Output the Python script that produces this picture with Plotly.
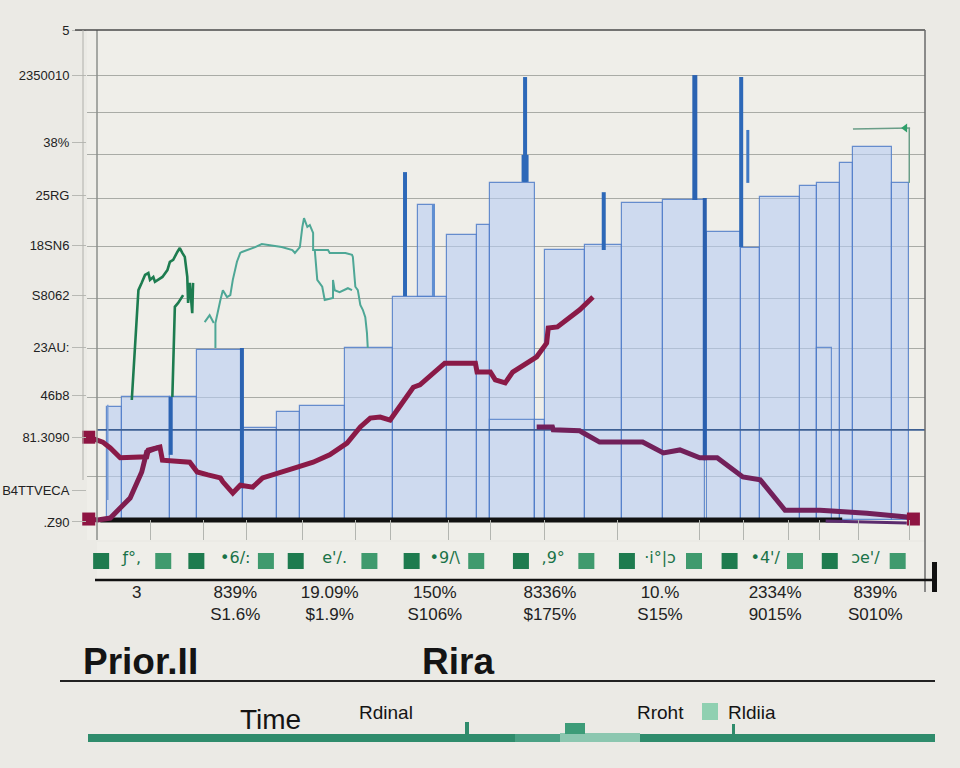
import plotly.graph_objects as go

# ---------------- data (chart units: period 0-100, level 0-100) ----------------
y_tick_vals = [100, 90.8, 77.1, 66.3, 56.1, 45.9, 35.3, 25.5, 16.9, 6.1, -0.4]
y_tick_text = ["5", "2350010", "38%", "25RG", "18SN6", "S8062", "23AU:", "46b8",
               "81.3090", "B4TTVECA", ".Z90"]
grid_levels = [90.8, 83.1, 74.5, 65.7, 55.9, 45.3, 35.1, 25.1, 8.8]
ref_level = 18.4
period_marks = [6.5, 12.9, 18.1, 24.8, 31.2, 35.4, 42.4, 47.5, 54.1, 62.9, 72.8,
                78.1, 83.5, 87.3, 92.0, 98.1]

bar_left = [1.2, 3.0, 8.8, 12.1, 17.6, 21.7, 24.5, 30.0, 35.7, 42.3, 45.9, 47.5, 52.9,
            54.1, 58.9, 63.4, 68.4, 73.7, 77.8, 80.1, 84.9, 86.9, 89.7, 91.3, 96.0, 38.8]
bar_right = [3.0, 8.8, 12.1, 17.6, 21.7, 24.5, 30.0, 35.7, 42.3, 45.9, 47.5, 52.9, 54.1,
             58.9, 63.4, 68.4, 73.4, 77.8, 80.1, 84.9, 86.9, 89.7, 91.3, 96.0, 98.1, 40.8]
bar_top = [23.1, 25.1, 25.1, 34.7, 18.8, 22.0, 23.3, 35.1, 45.5, 58.2, 60.2, 68.8, 20.4,
           55.1, 56.1, 64.7, 65.3, 58.8, 55.5, 65.9, 68.2, 68.8, 72.9, 76.1, 68.8, 64.3]
bar_base = [0] * 25 + [45.5]

inner_left = [47.5, 86.9]
inner_right = [52.9, 88.8]
inner_top = [20.4, 35.1]

spike_x = [1.3, 8.9, 17.5, 37.2, 40.6, 51.7, 51.7, 61.2, 72.2, 73.4, 77.8, 78.6]
spike_lo = [4.1, 13.3, 6.5, 45.7, 45.7, 69.0, 69.0, 55.1, 65.3, 12.2, 55.7, 68.8]
spike_hi = [23.5, 25.1, 35.1, 71.0, 64.3, 90.4, 74.5, 66.9, 90.8, 65.7, 90.4, 79.6]

a_x = [-1.0, 0.7, 1.6, 2.8, 6.0, 6.2, 7.6, 7.9, 11.2, 12.1, 13.4, 14.9, 15.2, 16.4, 17.3,
       18.8, 20.0, 22.1, 24.2, 26.1, 28.1, 30.2, 31.8, 33.0, 34.2, 35.4, 38.2, 39.0, 42.0,
       45.7, 45.9, 47.5, 48.1, 49.3, 50.2, 53.1, 54.3, 54.5, 55.6, 58.3, 59.9]
a_y = [16.9, 15.9, 14.7, 12.7, 12.9, 14.3, 14.9, 12.2, 11.8, 9.8, 9.2, 8.6, 7.8, 5.5, 7.1,
       6.7, 8.6, 9.8, 10.8, 11.8, 13.3, 15.7, 19.0, 20.8, 21.0, 20.4, 27.1, 27.6, 32.0,
       32.0, 30.2, 30.2, 28.6, 28.0, 30.2, 33.3, 36.1, 39.2, 39.4, 42.9, 45.5]

b_x = [-1.0, 0.1, 1.6, 4.0, 5.4, 6.0, 6.6, 7.6]
b_y = [0.2, 0.0, 0.4, 4.5, 9.8, 13.9, 14.3, 14.9]
c_x = [53.1, 55.0, 55.1, 58.3, 58.7, 60.7, 65.9, 68.4, 70.4, 72.8, 74.9, 78.0, 80.1,
       83.1, 87.3, 93.0, 97.8, 98.6]
c_y = [19.0, 19.0, 18.4, 18.2, 17.8, 15.9, 15.9, 13.7, 14.3, 12.7, 12.7, 8.8, 8.2,
       2.0, 2.0, 1.4, 0.6, 0.2]

base_x = [0.4, 90.0]
base_y = [0.0, 0.0]
tail_x = [88.0, 97.8]
tail_y = [-0.2, -0.6]

g1_x = [4.2, 4.8, 5.0, 5.4, 5.8, 6.2, 6.4, 6.8, 7.0, 7.9, 8.5, 8.8, 9.2, 9.7, 10.0,
        10.3, 10.6, 10.9, 11.0, 11.2, 11.5, 11.6]
g1_y = [24.5, 42.9, 46.9, 48.4, 50.0, 50.4, 49.0, 49.6, 48.6, 49.6, 51.0, 52.7, 53.1,
        54.7, 55.5, 54.5, 53.7, 49.6, 44.3, 48.4, 42.2, 48.4]
g2_x = [9.1, 9.3, 9.4, 9.8, 10.4]
g2_y = [25.1, 38.8, 43.5, 44.3, 45.9]

t_x = [14.3, 14.3, 14.9, 15.2, 15.7, 16.1, 16.4, 16.7, 16.9, 17.3, 17.5, 19.1, 19.9,
       22.3, 23.6, 23.9, 24.5, 24.8, 25.0, 25.4, 25.7, 26.1, 26.1, 27.9, 28.1, 30.0,
       30.8, 30.9, 31.2, 31.5, 31.8, 32.1, 32.4, 32.6, 32.7,
       None, 26.3, 26.6, 27.2, 27.5, 28.5, 28.5, 28.7, 29.3, 30.3, 30.8,
       None, 13.0, 13.6, 14.1]
t_y = [35.1, 40.2, 44.9, 46.9, 45.5, 45.9, 49.0, 51.6, 52.7, 54.5, 54.7, 55.7, 56.3,
       55.7, 55.1, 54.5, 55.7, 59.8, 61.6, 59.8, 60.2, 58.6, 55.1, 55.1, 54.5, 54.5,
       54.1, 53.7, 47.6, 46.9, 43.9, 42.9, 41.4, 38.2, 35.1,
       None, 55.1, 49.0, 47.6, 44.9, 45.3, 49.0, 46.9, 46.5, 47.3, 46.9,
       None, 40.4, 41.8, 40.2]

tr_x = [91.3, 98.2, None, 98.1, 98.1]
tr_y = [79.8, 80.0, None, 80.0, 68.8]

period_ticks = [4.8, 16.7, 28.1, 40.8, 54.7, 68.0, 81.9, 94.0]
period_labels = ["3", "839%<br>S1.6%", "19.09%<br>$1.9%", "150%<br>S106%",
                 "8336%<br>$175%", "10.%<br>S15%", "2334%<br>9015%", "839%<br>S010%"]
chip_x = [0.5, 8.0, 12.0, 20.4, 24.0, 32.9, 38.0, 45.8, 51.2, 59.1, 64.0, 72.1,
          76.4, 84.3, 88.5, 96.7]
glyph_x = [4.2, 16.7, 28.7, 42.0, 55.1, 68.0, 80.7, 92.8]
glyph_text = ["ƒ°,", "•6/:", "e'/.", "•9/\\", ",9°", "·i°|ɔ", "•4'/", "ɔe'/"]

# ---------------- figure ----------------
W, H = 960, 768
def px_x(p):
    return p / W
def px_y(p):
    return (H - p) / H

fig = go.Figure()

fig.add_trace(go.Bar(
    x=[(l + r) / 2 for l, r in zip(bar_left, bar_right)],
    width=[r - l for l, r in zip(bar_left, bar_right)],
    y=[t - b for t, b in zip(bar_top, bar_base)],
    base=bar_base,
    marker=dict(color="rgba(184,205,243,0.6)",
                line=dict(color="rgba(80,125,200,0.85)", width=1.2)),
    showlegend=False, hoverinfo="skip"))
fig.add_trace(go.Bar(
    x=[(l + r) / 2 for l, r in zip(inner_left, inner_right)],
    width=[r - l for l, r in zip(inner_left, inner_right)],
    y=inner_top,
    marker=dict(color="rgba(0,0,0,0)",
                line=dict(color="rgba(80,125,200,0.8)", width=1.2)),
    showlegend=False, hoverinfo="skip"))

fig.add_trace(go.Scatter(x=[0, 100], y=[ref_level, ref_level], mode="lines",
                         line=dict(color="#3d5f93", width=1.6),
                         showlegend=False, hoverinfo="skip"))

spike_w = [1.5, 4, 4, 4, 2.5, 4, 7, 4, 5, 4, 4, 3]
spike_c = ["#7a9fd6", "#2b63b2", "#2b63b2", "#2d68b8", "#5f8fd2", "#2d68b8",
           "#2d68b8", "#2d68b8", "#2b63b2", "#2a5fae", "#2d68b8", "#3f78c4"]
for sx, lo, hi, w, c in zip(spike_x, spike_lo, spike_hi, spike_w, spike_c):
    fig.add_trace(go.Scatter(x=[sx, sx], y=[lo, hi], mode="lines",
                             line=dict(color=c, width=w),
                             showlegend=False, hoverinfo="skip"))

fig.add_trace(go.Scatter(x=g1_x, y=g1_y, mode="lines",
                         line=dict(color="#1d7c50", width=2.6),
                         showlegend=False, hoverinfo="skip"))
fig.add_trace(go.Scatter(x=g2_x, y=g2_y, mode="lines",
                         line=dict(color="#1d7c50", width=2.6),
                         showlegend=False, hoverinfo="skip"))
fig.add_trace(go.Scatter(x=t_x, y=t_y, mode="lines", connectgaps=False,
                         line=dict(color="#4ea796", width=2),
                         showlegend=False, hoverinfo="skip"))
fig.add_trace(go.Scatter(x=tr_x, y=tr_y, mode="lines", connectgaps=False,
                         line=dict(color="#6a9e88", width=1.5),
                         showlegend=False, hoverinfo="skip"))
fig.add_trace(go.Scatter(x=[tr_x[1] - 0.6], y=[tr_y[1]], mode="markers",
                         marker=dict(color="#2fa06a", size=8, symbol="triangle-left"),
                         showlegend=False, hoverinfo="skip"))

fig.add_trace(go.Scatter(x=base_x, y=base_y, mode="lines",
                         line=dict(color="#111111", width=5),
                         showlegend=False, hoverinfo="skip"))
fig.add_trace(go.Scatter(x=tail_x, y=tail_y, mode="lines",
                         line=dict(color="#5b2b6e", width=3),
                         showlegend=False, hoverinfo="skip", cliponaxis=False))

fig.add_trace(go.Scatter(x=a_x, y=a_y, mode="lines",
                         line=dict(color="#8a1a47", width=5),
                         showlegend=False, hoverinfo="skip"))
fig.add_trace(go.Scatter(x=b_x, y=b_y, mode="lines",
                         line=dict(color="#7f1d4f", width=5),
                         showlegend=False, hoverinfo="skip"))
fig.add_trace(go.Scatter(x=c_x, y=c_y, mode="lines",
                         line=dict(color="#72205a", width=5),
                         showlegend=False, hoverinfo="skip"))
fig.add_trace(go.Scatter(x=[a_x[0], b_x[0], c_x[-1]], y=[a_y[0], b_y[0], c_y[-1]],
                         mode="markers", cliponaxis=False,
                         marker=dict(symbol="square", size=13, color="#8e1442"),
                         showlegend=False, hoverinfo="skip"))

chip_col = ["#1e7b4f" if i % 2 == 0 else "#3f9a6e" for i in range(len(chip_x))]
fig.add_trace(go.Scatter(x=chip_x, y=[0.5] * len(chip_x), xaxis="x2", yaxis="y2",
                         mode="markers", cliponaxis=False,
                         marker=dict(symbol="square", size=16, color=chip_col),
                         showlegend=False, hoverinfo="skip"))
fig.add_trace(go.Scatter(x=glyph_x, y=[0.55] * len(glyph_x), xaxis="x2", yaxis="y2",
                         mode="text", text=glyph_text, cliponaxis=False,
                         textfont=dict(family="DejaVu Sans", size=16, color="#1a7348"),
                         showlegend=False, hoverinfo="skip"))

# main plot spans a little left of the frame so the start squares stay visible
x_lo = -1.21
fig.update_layout(
    width=W, height=H, autosize=False,
    margin=dict(l=0, r=0, t=0, b=0, autoexpand=False),
    paper_bgcolor="#ebeae5", plot_bgcolor="#efeee9",
    barmode="overlay", bargap=0,
    xaxis=dict(domain=[px_x(87), px_x(925)], range=[x_lo, 100], showgrid=False,
               zeroline=False, showticklabels=False, ticks="", anchor="y",
               automargin=False,
               minor=dict(tickmode="array", tickvals=period_marks, ticks="inside",
                          ticklen=20, tickcolor="#b3b5b0", tickwidth=1, showgrid=False)),
    yaxis=dict(domain=[px_y(540), px_y(30)], range=[-4.08, 100], anchor="x",
               automargin=False,
               tickmode="array", tickvals=y_tick_vals, ticktext=y_tick_text,
               showgrid=False, zeroline=False, ticks="outside", ticklen=14,
               tickcolor="#b8b9b4", tickwidth=1,
               tickfont=dict(family="Liberation Sans", size=13, color="#222222"),
               showline=False,
               minor=dict(tickmode="array", tickvals=grid_levels, showgrid=True,
                          gridcolor="#a9aba6", gridwidth=1, ticks="")),
    xaxis2=dict(domain=[px_x(97), px_x(925)], range=[0, 100], anchor="y2",
                automargin=False,
                showgrid=False, zeroline=False, tickmode="array",
                tickvals=period_ticks, ticktext=period_labels, ticks="",
                tickfont=dict(family="Liberation Sans Narrow, Liberation Sans",
                              size=17, color="#222222")),
    yaxis2=dict(domain=[px_y(580), px_y(542)], range=[0, 1], anchor="x2",
                visible=False, automargin=False),
)

shapes = [
    dict(type="line", xref="paper", yref="paper", x0=px_x(97), x1=px_x(97),
         y0=px_y(540), y1=px_y(30), line=dict(color="#8d8f8b", width=1.5)),
    dict(type="line", xref="paper", yref="paper", x0=px_x(75), x1=px_x(925),
         y0=px_y(30), y1=px_y(30), line=dict(color="#4a4a4a", width=1.5)),
    dict(type="line", xref="paper", yref="paper", x0=px_x(925), x1=px_x(925),
         y0=px_y(592), y1=px_y(30), line=dict(color="#6a6a6a", width=1.5)),
    dict(type="line", xref="paper", yref="paper", x0=px_x(83), x1=px_x(83),
         y0=px_y(480), y1=px_y(30), line=dict(color="#b0b0ab", width=1)),
    dict(type="line", xref="paper", yref="paper", x0=px_x(95), x1=px_x(935),
         y0=px_y(580), y1=px_y(580), line=dict(color="#111111", width=2.5)),
    dict(type="rect", xref="paper", yref="paper", x0=px_x(932), x1=px_x(937),
         y0=px_y(592), y1=px_y(562), fillcolor="#111111", line=dict(width=0)),
    dict(type="line", xref="paper", yref="paper", x0=px_x(60), x1=px_x(935),
         y0=px_y(681), y1=px_y(681), line=dict(color="#222222", width=2)),
    dict(type="rect", xref="paper", yref="paper", x0=px_x(88), x1=px_x(935),
         y0=px_y(742), y1=px_y(734), fillcolor="#2f8c6c", line=dict(width=0)),
    dict(type="rect", xref="paper", yref="paper", x0=px_x(515), x1=px_x(560),
         y0=px_y(742), y1=px_y(734), fillcolor="#4aa184", line=dict(width=0)),
    dict(type="rect", xref="paper", yref="paper", x0=px_x(560), x1=px_x(640),
         y0=px_y(742), y1=px_y(733), fillcolor="#8cc7b0", line=dict(width=0)),
    dict(type="rect", xref="paper", yref="paper", x0=px_x(565), x1=px_x(585),
         y0=px_y(734), y1=px_y(723), fillcolor="#3d9c78", line=dict(width=0)),
    dict(type="rect", xref="paper", yref="paper", x0=px_x(732), x1=px_x(735),
         y0=px_y(734), y1=px_y(724), fillcolor="#2f8c6c", line=dict(width=0)),
    dict(type="rect", xref="paper", yref="paper", x0=px_x(465), x1=px_x(469),
         y0=px_y(734), y1=px_y(722), fillcolor="#2f8c6c", line=dict(width=0)),
    dict(type="rect", xref="paper", yref="paper", x0=px_x(702), x1=px_x(718),
         y0=px_y(720), y1=px_y(703), fillcolor="#8fd0b1", line=dict(width=0)),
]
fig.update_layout(shapes=shapes)

def ann(text, x, y, size, bold=False, anchor="left"):
    return dict(text=("<b>%s</b>" % text) if bold else text, xref="paper", yref="paper",
                x=px_x(x), y=px_y(y), xanchor=anchor, yanchor="middle", showarrow=False,
                font=dict(family="Liberation Sans", size=size, color="#141414"))

fig.update_layout(annotations=[
    ann("Prior.II", 81, 661, 37, bold=True),
    ann("Rira", 420, 661, 37, bold=True),
    ann("Time", 270, 719, 28, anchor="center"),
    ann("Rdinal", 386, 712, 19, anchor="center"),
    ann("Rroht", 660, 712, 19, anchor="center"),
    ann("Rldiia", 726, 712, 19),
])

fig.write_html("out.html")
